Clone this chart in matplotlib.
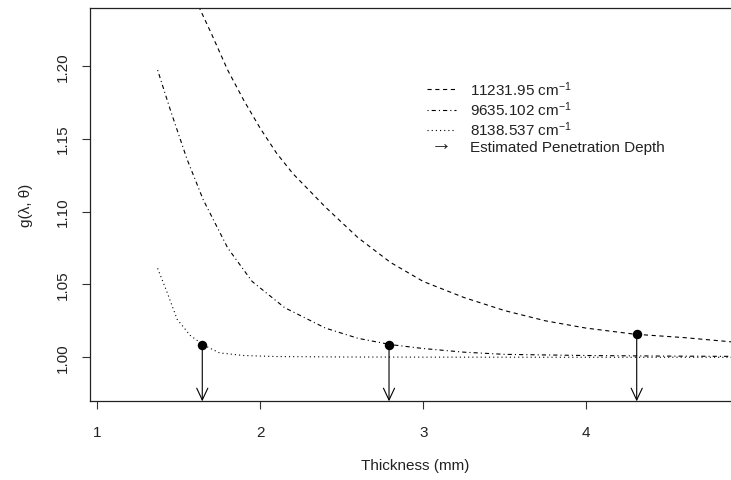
import numpy as np
import matplotlib
matplotlib.use("Agg")
import matplotlib.pyplot as plt
from matplotlib.lines import Line2D

plt.rcParams["font.family"] = ["Liberation Sans", "DejaVu Sans"]
plt.rcParams["mathtext.fontset"] = "custom"
plt.rcParams["mathtext.rm"] = "Liberation Sans"
plt.rcParams["mathtext.it"] = "Liberation Sans"
plt.rcParams["lines.scale_dashes"] = False

# ----------------------------
# Data: g(lambda, theta) vs sample thickness
# ----------------------------
thick_11231 = [1.60, 1.70, 1.80, 1.90, 2.00, 2.10, 2.20, 2.40, 2.60, 2.80, 3.00,
               3.25, 3.50, 3.75, 4.00, 4.30, 4.60, 4.95]
g_11231     = [1.246, 1.222, 1.197, 1.176, 1.157, 1.140, 1.126, 1.103, 1.082, 1.065, 1.052,
               1.041, 1.032, 1.025, 1.020, 1.0158, 1.0135, 1.010]

thick_9635 = [1.37, 1.45, 1.55, 1.65, 1.80, 1.95, 2.15, 2.40, 2.60, 2.80,
              3.00, 3.25, 3.50, 4.00, 4.50, 4.95]
g_9635     = [1.197, 1.169, 1.136, 1.108, 1.075, 1.052, 1.034, 1.020, 1.013, 1.0087,
              1.006, 1.0035, 1.002, 1.0012, 1.0008, 1.0006]

thick_8138 = [1.37, 1.43, 1.49, 1.57, 1.65, 1.75, 1.90, 2.10, 2.50, 3.00, 4.00, 4.95]
g_8138     = [1.061, 1.044, 1.026, 1.015, 1.0085, 1.003, 1.0012, 1.0005, 1.0002,
              1.0001, 1.0, 1.0]

depth_x = [1.644, 2.79, 4.31]
depth_g = [1.0086, 1.0087, 1.0158]

series_labels = [r"11231.95 cm$^{-1}$", r"9635.102 cm$^{-1}$", r"8138.537 cm$^{-1}$"]

XLIM = (0.955, 4.95)
YLIM = (0.9698, 1.2396)

DASHED  = (0, (3.0, 2.6))
DASHDOT = (0, (0.8, 2.2, 3.0, 2.2))
DOTTED  = (0, (0.8, 2.2))

# ----------------------------
# Plot
# ----------------------------
fig = plt.figure(figsize=(7.31, 4.81), dpi=100)
ax = fig.add_axes([90 / 731, 78.7 / 481, 651 / 731, 393.3 / 481])

lw = 0.8
ax.plot(thick_11231, g_11231, color="black", lw=lw, linestyle=DASHED)
ax.plot(thick_9635, g_9635, color="black", lw=lw, linestyle=DASHDOT)
ax.plot(thick_8138, g_8138, color="black", lw=lw, linestyle=DOTTED)

ax.plot(depth_x, depth_g, "o", color="black", ms=5.8, zorder=5)
for x, g in zip(depth_x, depth_g):
    ax.annotate("", xy=(x, YLIM[0]), xytext=(x, g),
                arrowprops=dict(arrowstyle="->,head_length=0.85,head_width=0.4",
                                color="black", lw=lw, shrinkA=0, shrinkB=0,
                                mutation_scale=10))

ax.set_xlim(*XLIM)
ax.set_ylim(*YLIM)
ax.set_xticks([1, 2, 3, 4])
ax.set_yticks([1.00, 1.05, 1.10, 1.15, 1.20])
ax.set_yticklabels(["1.00", "1.05", "1.10", "1.15", "1.20"])
ax.tick_params(axis="both", direction="out", length=5.8, width=0.8,
               labelsize=11, colors="#333333", labelcolor="#222222")
ax.tick_params(axis="x", pad=11)
ax.tick_params(axis="y", pad=9, labelrotation=90)
for lbl in ax.get_yticklabels():
    lbl.set_verticalalignment("center")
for sp in ax.spines.values():
    sp.set_linewidth(0.9)
    sp.set_color("#222222")

ax.set_xlabel("Thickness (mm)", fontsize=11, color="#222222", labelpad=14)
ax.set_ylabel("g(λ, θ)", fontsize=11, color="#222222", labelpad=16)

handles = [
    Line2D([], [], color="black", lw=lw, linestyle=DASHED),
    Line2D([], [], color="black", lw=lw, linestyle=DASHDOT),
    Line2D([], [], color="black", lw=lw, linestyle=DOTTED),
    Line2D([], [], color="#222222", linestyle="none", marker="$\u2192$", ms=9,
           markeredgewidth=0),
]
ax.legend(handles, series_labels + ["Estimated Penetration Depth"],
          loc="upper left", bbox_to_anchor=(0.508, 0.835), frameon=False,
          fontsize=11, handlelength=1.9, handletextpad=0.9, labelspacing=0.12,
          borderaxespad=0, labelcolor="#222222")

fig.savefig("out.png", dpi=100)
